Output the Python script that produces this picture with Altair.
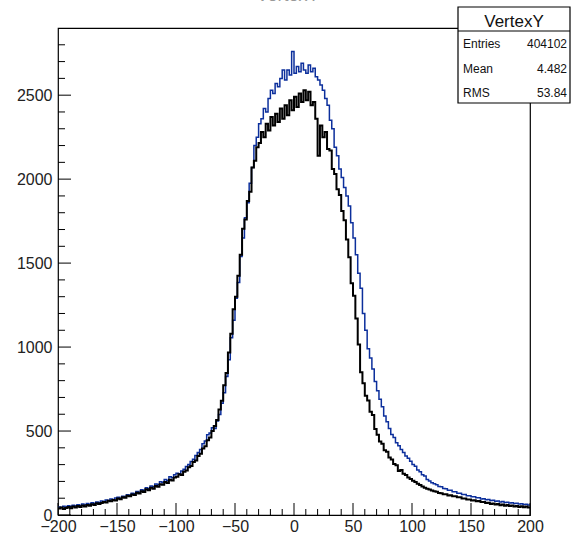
import altair as alt
import pandas as pd

# ---- data: histogram "VertexY", 200 bins of width 2 from -200 to 200 ----
bin_low_edges = list(range(-200, 200, 2))

black_counts = [
    38, 44, 35, 42, 47, 40, 50, 45, 53, 48, 57, 51, 60, 55, 64, 59, 70, 66, 72, 77,
    74, 85, 82, 90, 87, 99, 94, 106, 103, 115, 112, 122, 119, 133, 128, 142, 137, 153, 148, 162,
    157, 172, 168, 183, 180, 196, 191, 210, 206, 224, 228, 242, 238, 258, 265, 284, 292, 315, 325, 352,
    365, 396, 410, 445, 462, 500, 530, 565, 628, 680, 772, 845, 968, 1080, 1225, 1300, 1425, 1550, 1705, 1760,
    1870, 1925, 2070, 2110, 2190, 2215, 2280, 2250, 2330, 2290, 2370, 2320, 2390, 2340, 2420, 2360, 2440, 2380, 2470, 2410,
    2490, 2430, 2510, 2460, 2530, 2470, 2520, 2440, 2460, 2360, 2140, 2320, 2250, 2280, 2180, 2170, 2060, 2030, 1940, 1905,
    1810, 1755, 1640, 1535, 1380, 1305, 1170, 1015, 850, 785, 710, 682, 615, 595, 512, 478, 438, 425, 386, 376,
    342, 330, 304, 296, 262, 268, 246, 238, 224, 215, 204, 196, 186, 178, 170, 163, 157, 152, 146, 142,
    139, 131, 130, 124, 123, 116, 117, 111, 111, 105, 106, 98, 99, 93, 93, 87, 88, 82, 83, 77,
    78, 72, 73, 66, 69, 63, 65, 58, 62, 55, 59, 53, 56, 50, 54, 48, 52, 46, 50, 45,
]

blue_counts = [
    48, 45, 52, 47, 55, 50, 58, 54, 61, 57, 65, 60, 68, 64, 73, 69, 78, 75, 83, 80,
    89, 86, 95, 92, 101, 105, 100, 112, 108, 121, 117, 130, 126, 140, 136, 151, 146, 162, 157, 173,
    168, 185, 180, 198, 193, 212, 206, 228, 222, 240, 248, 245, 262, 272, 289, 300, 318, 332, 355, 372,
    390, 425, 440, 478, 488, 520, 515, 560, 598, 665, 728, 825, 925, 1055, 1160, 1290, 1385, 1540, 1650, 1770,
    1860, 1975, 2070, 2200, 2250, 2330, 2360, 2420, 2400, 2480, 2530, 2510, 2570, 2550, 2600, 2650, 2590, 2650, 2620, 2760,
    2630, 2670, 2640, 2690, 2650, 2630, 2680, 2640, 2660, 2610, 2590, 2560, 2530, 2480, 2440, 2350, 2300, 2190, 2140, 2060,
    2010, 1950, 1900, 1840, 1740, 1650, 1550, 1440, 1350, 1200, 1100, 990, 935, 870, 795, 740, 690, 645, 590, 555,
    515, 480, 462, 430, 412, 390, 372, 352, 338, 320, 300, 290, 268, 258, 240, 232, 212, 202, 192, 186,
    180, 170, 168, 158, 157, 148, 148, 138, 138, 130, 130, 122, 122, 115, 115, 108, 109, 102, 103, 96,
    97, 91, 93, 86, 88, 82, 84, 78, 80, 74, 76, 71, 73, 68, 70, 65, 67, 62, 64, 59,
]

assert len(black_counts) == 200 and len(blue_counts) == 200, (len(black_counts), len(blue_counts))

x_major_ticks = [-200, -150, -100, -50, 0, 50, 100, 150, 200]
x_minor_ticks = [v for v in range(-200, 201, 10) if v % 50 != 0]
y_major_ticks = [0, 500, 1000, 1500, 2000, 2500]
y_minor_ticks = [v for v in range(100, 2900, 100) if v % 500 != 0]

stats_title = "VertexY"
stats_labels = ["Entries", "Mean", "RMS"]
stats_values = ["404102", "4.482", "53.84"]

X_DOMAIN = [-200, 200]
Y_DOMAIN = [0, 2900]

W, H = 472, 487
FONT = "Liberation Sans"
BLUE = "#0c2f9c"


def step_frame(counts):
    edges = bin_low_edges + [200]
    vals = counts + [counts[-1]]
    return pd.DataFrame({"edge": edges, "count": vals})


xs = alt.Scale(domain=X_DOMAIN, nice=False, zero=False)
ys = alt.Scale(domain=Y_DOMAIN, nice=False, zero=False)

x_axis = alt.Axis(values=x_major_ticks, title=None, ticks=False, tickSize=0, domain=False,
                  grid=False, labelFontSize=16, labelFont=FONT, labelColor="#222",
                  labelPadding=3, format="d", labelFlush=False, labelOverlap=False)
y_axis = alt.Axis(values=y_major_ticks, title=None, ticks=False, tickSize=0, domain=False,
                  grid=False, labelFontSize=16, labelFont=FONT, labelColor="#222",
                  labelPadding=6, format="d", labelFlush=False, labelOverlap=False)

blue_line = alt.Chart(step_frame(blue_counts)).mark_line(
    interpolate="step-after", color=BLUE, strokeWidth=1.5
).encode(
    x=alt.X("edge:Q", scale=xs, axis=x_axis),
    y=alt.Y("count:Q", scale=ys, axis=y_axis),
)

black_line = alt.Chart(step_frame(black_counts)).mark_line(
    interpolate="step-after", color="#000000", strokeWidth=2
).encode(
    x=alt.X("edge:Q", scale=xs, axis=x_axis),
    y=alt.Y("count:Q", scale=ys, axis=y_axis),
)

xmaj = alt.Chart(pd.DataFrame({"edge": x_major_ticks})).mark_rule(color="#000", strokeWidth=1).encode(
    x=alt.X("edge:Q", scale=xs, axis=x_axis), y=alt.value(H), y2=alt.value(H - 12))
xmin = alt.Chart(pd.DataFrame({"edge": x_minor_ticks})).mark_rule(color="#000", strokeWidth=1).encode(
    x=alt.X("edge:Q", scale=xs, axis=x_axis), y=alt.value(H), y2=alt.value(H - 6))
ymaj = alt.Chart(pd.DataFrame({"count": y_major_ticks})).mark_rule(color="#000", strokeWidth=1).encode(
    y=alt.Y("count:Q", scale=ys, axis=y_axis), x=alt.value(0), x2=alt.value(13))
ymin = alt.Chart(pd.DataFrame({"count": y_minor_ticks})).mark_rule(color="#000", strokeWidth=1).encode(
    y=alt.Y("count:Q", scale=ys, axis=y_axis), x=alt.value(0), x2=alt.value(7))

one = pd.DataFrame({"a": [0]})

# stats box (pixel positions relative to plot area)
BX0, BX1, BY0, BY1 = 400, 512, -21, 75
box = alt.Chart(one).mark_rect(fill="white", stroke="#000", strokeWidth=1.2).encode(
    x=alt.value(BX0), x2=alt.value(BX1), y=alt.value(BY0), y2=alt.value(BY1))
box_sep = alt.Chart(one).mark_rule(color="#000", strokeWidth=1).encode(
    x=alt.value(BX0), x2=alt.value(BX1), y=alt.value(3))

title_txt = alt.Chart(one).mark_text(
    text=stats_title, font=FONT, fontSize=17, align="center", baseline="alphabetic", color="#111"
).encode(x=alt.value((BX0 + BX1) / 2), y=alt.value(-1))

stat_layers = []
for i, (lab, val) in enumerate(zip(stats_labels, stats_values)):
    yy = 20 + i * 24.5
    stat_layers.append(alt.Chart(one).mark_text(
        text=lab, font=FONT, fontSize=12, align="left", baseline="alphabetic", color="#111"
    ).encode(x=alt.value(BX0 + 5), y=alt.value(yy)))
    stat_layers.append(alt.Chart(one).mark_text(
        text=val, font=FONT, fontSize=12, align="right", baseline="alphabetic", color="#111"
    ).encode(x=alt.value(BX1 - 3), y=alt.value(yy)))

# pad title: in the reference only the very bottom edge of it reaches the canvas
pad_title = alt.Chart(one).mark_text(
    text="VertexY", font=FONT, fontSize=18, align="center", baseline="alphabetic", color="#999"
).encode(x=alt.value(230), y=alt.value(-27.5))

chart = alt.layer(
    blue_line, black_line, xmaj, xmin, ymaj, ymin, box, box_sep, title_txt, *stat_layers, pad_title
).properties(
    width=W, height=H,
    autosize=alt.AutoSizeParams(type="none"),
    padding={"left": 58, "top": 28, "right": 46, "bottom": 23},
    background="white",
).configure_view(
    stroke="#000", strokeWidth=1.2
)

chart.save("out.html", embed_options={"renderer": "svg", "actions": False})
